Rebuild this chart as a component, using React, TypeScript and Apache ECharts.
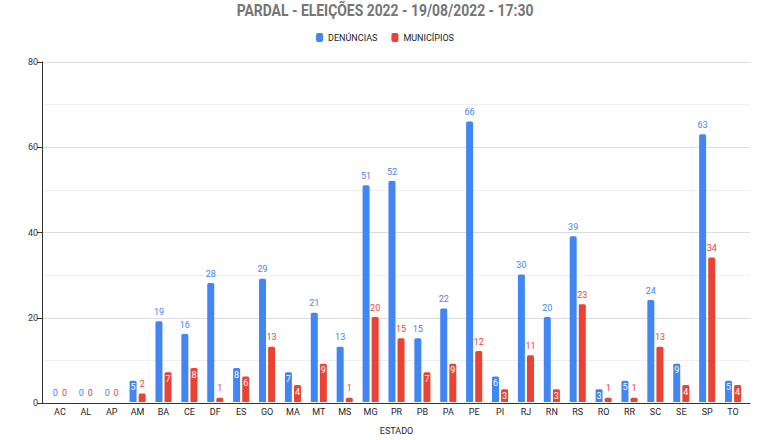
import React, { useEffect, useRef } from "react";
import * as echarts from "echarts";

const states = ["AC","AL","AP","AM","BA","CE","DF","ES","GO","MA","MT","MS","MG","PR","PB","PA","PE","PI","RJ","RN","RS","RO","RR","SC","SE","SP","TO"];
const denuncias = [0,0,0,5,19,16,28,8,29,7,21,13,51,52,15,22,66,6,30,20,39,3,5,24,9,63,5];
const municipios = [0,0,0,2,7,8,1,6,13,4,9,1,20,15,7,9,12,3,11,3,23,1,1,13,4,34,4];
const yTicks = [0, 20, 40, 60, 80];
const titleText = "PARDAL - ELEIÇÕES 2022 - 19/08/2022 - 17:30";

const BLUE = "#4285F4";
const RED = "#EA4335";

function items(values: number[], color: string) {
  return values.map((v) => {
    const inside = v >= 3 && v <= 9;
    return {
      value: v,
      label: inside
        ? { show: true, position: "insideTop", distance: 2, color: "#ffffff", fontSize: 9 }
        : { show: true, position: "top", distance: 5, color, fontSize: 9 },
    };
  });
}

export default function App() {
  const ref = useRef<HTMLDivElement>(null);
  useEffect(() => {
    if (!ref.current) return;
    const chart = echarts.init(ref.current, null, { renderer: "svg" });
    const ff = "Roboto, Arial, sans-serif";
    chart.setOption({
      animation: false,
      textStyle: { fontFamily: ff },
      graphic: [
        {
          type: "text",
          x: 385,
          y: 11,
          scaleX: 0.87,
          style: {
            text: titleText,
            x: 0,
            y: 0,
            textAlign: "center",
            textVerticalAlign: "middle",
            fontSize: 16,
            fontWeight: "bold",
            fill: "#757575",
            fontFamily: ff,
          },
        },
      ],
      legend: {
        top: 28,
        left: "center",
        itemWidth: 7,
        itemHeight: 9,
        itemGap: 14,
        icon: "roundRect",
        textStyle: { fontSize: 9, color: "#222", fontFamily: ff },
        data: ["DENÚNCIAS", "MUNICÍPIOS"],
      },
      grid: [
        { left: 42, right: 20, top: 62, bottom: 37 },
        { left: 47, right: 24, top: 62, bottom: 37 },
      ],
      xAxis: [
        {
          gridIndex: 0,
          type: "value",
          min: 0,
          max: 1,
          axisLine: { show: true, lineStyle: { color: "#333", width: 1 } },
          axisTick: { show: false },
          axisLabel: { show: false },
          splitLine: { show: false },
        },
        {
          gridIndex: 1,
          type: "category",
          data: states,
          axisLine: { show: false },
          axisTick: { show: false },
          axisLabel: { fontSize: 9, color: "#222", margin: 5, interval: 0, fontFamily: ff },
          name: "ESTADO",
          nameLocation: "middle",
          nameGap: 24,
          nameTextStyle: { fontSize: 9, color: "#222", fontFamily: ff },
        },
      ],
      yAxis: [
        {
          gridIndex: 0,
          type: "value",
          min: yTicks[0],
          max: yTicks[yTicks.length - 1],
          interval: 20,
          axisLine: { show: true, lineStyle: { color: "#333", width: 1 } },
          axisTick: { show: true, length: 5, lineStyle: { color: "#333" } },
          axisLabel: { fontSize: 9, color: "#333", margin: 4, fontFamily: ff },
          splitLine: { show: true, lineStyle: { color: "#dcdcdc" } },
          minorTick: { show: false, splitNumber: 2 },
          minorSplitLine: { show: true, lineStyle: { color: "#efefef" } },
        },
        {
          gridIndex: 1,
          type: "value",
          min: 0,
          max: 80,
          show: false,
          splitLine: { show: false },
        },
      ],
      series: [
        {
          name: "DENÚNCIAS",
          type: "bar",
          xAxisIndex: 1,
          yAxisIndex: 1,
          barWidth: 7,
          barGap: "30%",
          itemStyle: { color: BLUE, borderRadius: [1.5, 1.5, 0, 0] },
          data: items(denuncias, BLUE),
        },
        {
          name: "MUNICÍPIOS",
          type: "bar",
          xAxisIndex: 1,
          yAxisIndex: 1,
          barWidth: 7,
          barGap: "30%",
          itemStyle: { color: RED, borderRadius: [1.5, 1.5, 0, 0] },
          data: items(municipios, RED),
        },
      ],
    });
    return () => chart.dispose();
  }, []);
  return (
    <div
      ref={ref}
      style={{ position: "fixed", left: 0, top: 0, width: 770, height: 440, background: "#fff" }}
    />
  );
}
